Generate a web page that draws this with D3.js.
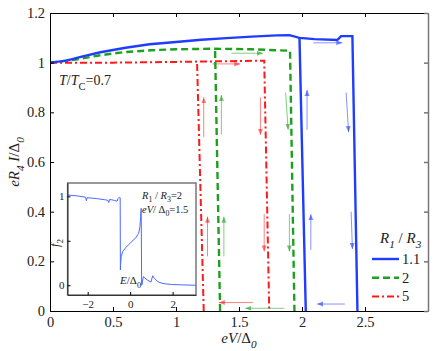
<!DOCTYPE html>
<html>
<head>
<meta charset="utf-8">
<script src="https://cdn.jsdelivr.net/npm/d3@7"></script>
<style>
  body { margin: 0; background: #fff; }
</style>
</head>
<body>
<script>
// ---- data ----
// forward sweep (upper branch then jump to zero) and return jump, per R1/R3
var blueV = [0, 0.13, 0.26, 0.4, 0.6, 0.79, 1.0, 1.2, 1.4, 1.6, 1.8, 1.9, 1.98, 2.1, 2.28, 2.31, 2.40, 2.44];
var blueI = [1.0, 1.008, 1.025, 1.042, 1.06, 1.074, 1.083, 1.092, 1.099, 1.105, 1.11, 1.111, 1.1, 1.095, 1.091, 1.107, 1.107, 0];
var blueBackV = [2.03, 1.98];
var blueBackI = [0, 1.1];

var greenV = [0, 0.2, 0.4, 0.6, 0.8, 1.0, 1.3, 1.6, 1.905, 1.94];
var greenI = [1.0, 1.012, 1.03, 1.043, 1.05, 1.054, 1.056, 1.054, 1.048, 0];
var greenBackV = [1.35, 1.31];
var greenBackI = [0, 1.055];

var redV = [0, 0.5, 1.0, 1.4, 1.70, 1.74];
var redI = [1.0, 1.0, 1.003, 1.006, 1.008, 0];
var redBackV = [1.22, 1.167];
var redBackI = [0, 1.003];

// sweep-direction arrows [V0, I0, V1, I1]
var blueArrows = [[2.09,1.08,2.32,1.08],[2.04,0.73,2.04,0.89],[2.35,0.88,2.37,0.72],
                  [2.07,0.246,2.07,0.39],[2.39,0.40,2.40,0.25],[2.34,0.028,2.12,0.028]];
var greenArrows = [[1.44,1.038,1.69,1.038],[1.36,0.71,1.36,0.87],[1.87,0.88,1.89,0.73],
                   [1.38,0.22,1.38,0.38],[1.90,0.39,1.90,0.24],[1.86,0.011,1.55,0.011]];
var redArrows = [[1.29,0.995,1.51,0.995],[1.22,0.70,1.22,0.86],[1.67,0.86,1.67,0.71],
                 [1.25,0.22,1.25,0.38],[1.70,0.39,1.70,0.24],[1.61,0.034,1.34,0.034]];

var legendLabels = ["1.1", "2", "5"];
var xTicks = [0, 0.5, 1, 1.5, 2, 2.5];
var yTicks = [0, 0.2, 0.4, 0.6, 0.8, 1, 1.2];

// inset: distribution f2(E)
var insetE = [-2.94, -2.5, -2.1, -2.06, -2.03, -1.6, -1.2, -1.05, -1.01, -0.97, -0.75, -0.62, -0.56, -0.51,
              -0.47, -0.46, -0.45, -0.42, -0.35, -0.2, 0.04, 0.27, 0.4, 0.46, 0.49, 0.52, 0.54, 0.56,
              0.62, 0.8, 0.98, 1.06, 1.15, 1.3, 1.5, 1.7, 2.0, 2.5, 3.1];
var insetF = [1.015, 1.005, 0.99, 0.95, 0.985, 0.975, 0.962, 0.955, 0.93, 0.965, 0.955, 0.945, 0.978, 0.99,
              0.985, 0.171, 0.24, 0.32, 0.38, 0.425, 0.483, 0.535, 0.584, 0.658, 0.771, 0.865, 0.0, 0.01,
              0.096, 0.06, 0.035, 0.107, 0.075, 0.04, 0.022, 0.014, 0.008, 0.003, 0.0];
var insetXTicks = [-2, 0, 2];
var insetYTicks = [0, 0.5, 1];

var blue = "#1f3dff", green = "#1ea01e", red = "#ff1a1a";
var serif = '"Liberation Serif", "Times New Roman", Times, serif';

var width = 436, height = 351;
var svg = d3.select("body").append("svg")
    .attr("width", width)
    .attr("height", height);

var x = d3.scaleLinear().domain([0, 3]).range([50, 428]);
var y = d3.scaleLinear().domain([0, 1.2]).range([311, 13]);

// clip to plot area
svg.append("clipPath").attr("id", "plot")
  .append("rect").attr("x", 50).attr("y", 13).attr("width", 378).attr("height", 298);

// arrow heads
var defs = svg.append("defs");
[["b", blue], ["g", green], ["r", red]].forEach(function(m) {
  defs.append("marker")
      .attr("id", "arr-" + m[0])
      .attr("markerUnits", "userSpaceOnUse")
      .attr("markerWidth", 7).attr("markerHeight", 6)
      .attr("refX", 6).attr("refY", 3)
      .attr("orient", "auto")
    .append("path")
      .attr("d", "M0,0.5 L6,3 L0,5.5 Z")
      .attr("fill", m[1])
      .attr("fill-opacity", 0.6);
});

var line = d3.line().x(function(d) { return x(d[0]); }).y(function(d) { return y(d[1]); });
function pairs(a, b) { return a.map(function(v, i) { return [v, b[i]]; }); }

var curves = [
  {v: blueV, i: blueI, bv: blueBackV, bi: blueBackI, color: blue, w: 2.4, dash: null, arrows: blueArrows, m: "b"},
  {v: greenV, i: greenI, bv: greenBackV, bi: greenBackI, color: green, w: 2.4, dash: "7,4", arrows: greenArrows, m: "g"},
  {v: redV, i: redI, bv: redBackV, bi: redBackI, color: red, w: 2, dash: "7,3,2,3", arrows: redArrows, m: "r"}
];

var plot = svg.append("g").attr("clip-path", "url(#plot)");

// draw in reverse so blue sits on top
curves.slice().reverse().forEach(function(c) {
  [pairs(c.v, c.i), pairs(c.bv, c.bi)].forEach(function(pts) {
    plot.append("path")
        .attr("d", line(pts))
        .attr("fill", "none")
        .attr("stroke", c.color)
        .attr("stroke-width", c.w)
        .attr("stroke-dasharray", c.dash);
  });
  c.arrows.forEach(function(a) {
    plot.append("line")
        .attr("x1", x(a[0])).attr("y1", y(a[1]))
        .attr("x2", x(a[2])).attr("y2", y(a[3]))
        .attr("stroke", c.color)
        .attr("stroke-opacity", 0.55)
        .attr("stroke-width", 1)
        .attr("marker-end", "url(#arr-" + c.m + ")");
  });
});

// axes, ticks pointing inward
var fmt = d3.format("~g");
svg.append("g").attr("transform", "translate(0,311)")
    .call(d3.axisBottom(x).tickValues(xTicks).tickFormat(fmt).tickSize(-4).tickSizeOuter(0).tickPadding(6));
svg.append("g").attr("transform", "translate(50,0)")
    .call(d3.axisLeft(y).tickValues(yTicks).tickFormat(fmt).tickSize(-4).tickSizeOuter(0).tickPadding(5));
svg.append("g").attr("transform", "translate(0,13)")
    .call(d3.axisTop(x).tickValues(xTicks).tickFormat("").tickSize(-4).tickSizeOuter(0));
svg.append("g").attr("class", "right").attr("transform", "translate(428,0)")
    .call(d3.axisRight(y).tickValues(yTicks).tickFormat("").tickSize(-4).tickSizeOuter(0));
svg.selectAll(".domain").attr("stroke", "#000");
svg.selectAll(".right .domain, .right line").attr("stroke", "#777").attr("stroke-width", 1.5);
svg.selectAll(".tick text").attr("font-size", 14.5).attr("fill", "#222");

// text with subscripts: parts = [[text, italic, sub], ...]
function richText(g, px, py, parts, size, anchor, rotate, subShift) {
  var t = g.append("text")
      .attr("x", px).attr("y", py)
      .attr("font-size", size)
      .attr("text-anchor", anchor || "start")
      .attr("fill", "#222");
  if (rotate) t.attr("transform", "rotate(" + rotate + "," + px + "," + py + ")");
  var shift = 0;
  parts.forEach(function(p) {
    var s = t.append("tspan").text(p[0]);
    if (p[1]) s.attr("font-style", "italic");
    var target = p[2] ? size * (subShift || 0.35) : 0;
    if (target !== shift) { s.attr("dy", target - shift); shift = target; }
    if (p[2]) s.attr("font-size", size * 0.75);
  });
  return t;
}

richText(svg, 239, 343, [["eV", true], ["/Δ"], ["0", true, true]], 15, "middle", 0, 0.3);
richText(svg, 19, 162, [["eR", true], ["4", true, true], [" I", true], ["/Δ"], ["0", true, true]], 15, "middle", -90);
richText(svg, 59, 85, [["T", true], ["/"], ["T", true], ["C", false, true], ["=0.7"]], 14, "start");

// legend
richText(svg, 380, 243, [["R", true], ["1", true, true], [" / "], ["R", true], ["3", true, true]], 15, "start");
curves.forEach(function(c, k) {
  var ly = 259 + k * 18.7;
  svg.append("line")
      .attr("x1", 372).attr("x2", 399)
      .attr("y1", ly).attr("y2", ly)
      .attr("stroke", c.color)
      .attr("stroke-width", c.w)
      .attr("stroke-dasharray", c.dash);
  svg.append("text")
      .attr("x", 402).attr("y", ly + 5)
      .attr("font-size", 14.5)
      .attr("fill", "#222")
      .text(legendLabels[k]);
});

// ---- inset ----
var xi = d3.scaleLinear().domain([-2.95, 3.1]).range([67.5, 196]);
var yi = d3.scaleLinear().domain([-0.11, 1.15]).range([295, 183]);

var inset = svg.append("g");
inset.append("rect")
    .attr("x", 67.5).attr("y", 183)
    .attr("width", 128.5).attr("height", 112)
    .attr("fill", "#fff")
    .attr("stroke", "#555")
    .attr("stroke-width", 1.2);

inset.append("path")
    .attr("d", d3.line().x(function(d) { return xi(d[0]); }).y(function(d) { return yi(d[1]); })(pairs(insetE, insetF)))
    .attr("fill", "none")
    .attr("stroke", "#4a6bff")
    .attr("stroke-width", 1);

inset.append("g").attr("class", "inax").attr("transform", "translate(0,295)")
    .call(d3.axisBottom(xi).tickValues(insetXTicks).tickSize(-3).tickSizeOuter(0).tickPadding(5));
inset.append("g").attr("class", "inax").attr("transform", "translate(67.5,0)")
    .call(d3.axisLeft(yi).tickValues(insetYTicks).tickSize(-3).tickSizeOuter(0).tickPadding(3));
inset.selectAll(".inax .domain").attr("stroke", "#333");
inset.selectAll(".inax text").attr("font-size", 11).attr("fill", "#222")
    .text(function(d) { return d < 0 ? "\u2212" + (-d) : (d === 0.5 ? "" : d); });

richText(inset, 59, 243, [["f", true], ["2", false, true]], 12, "middle", -90);
richText(inset, 142, 199, [["R", true], ["1", false, true], [" / "], ["R", true], ["3", false, true], ["=2"]], 10.5, "start", 0, 0.25);
richText(inset, 142, 213, [["eV", true], ["/ Δ"], ["0", false, true], ["=1.5"]], 10.5, "start", 0, 0.3);
richText(inset, 120, 284, [["E", true], ["/Δ"], ["0", false, true]], 11, "start");

// serif everywhere (axis groups default to sans-serif)
svg.selectAll("g").attr("font-family", serif);
svg.selectAll("text").style("font-family", serif);
</script>
</body>
</html>
